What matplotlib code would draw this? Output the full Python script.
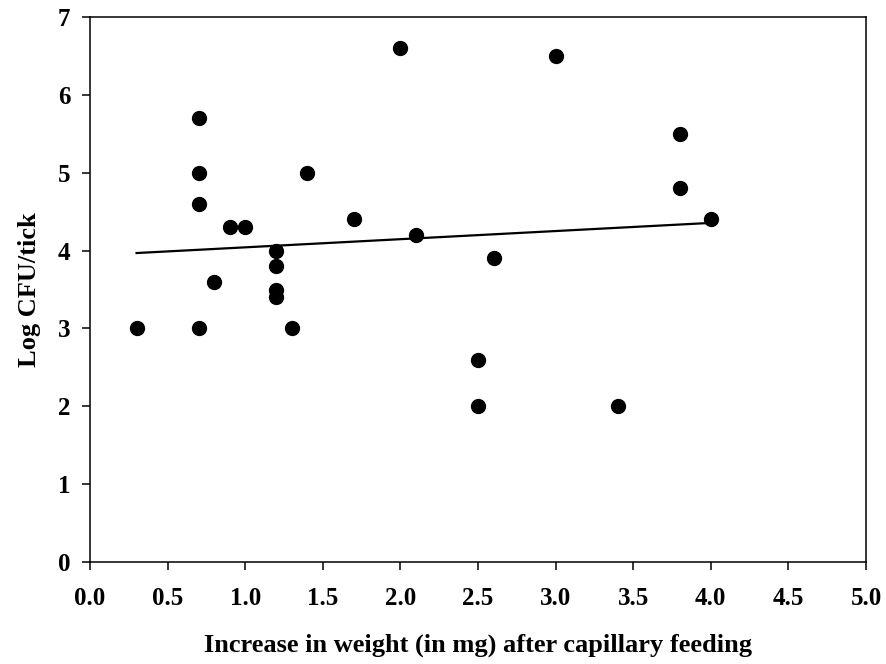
import numpy as np
import matplotlib
matplotlib.use("Agg")
import matplotlib.pyplot as plt

plt.rcParams['font.family'] = ['Liberation Serif', 'DejaVu Serif']
plt.rcParams['font.weight'] = 'bold'

# weight gain (mg) vs log CFU per tick
weight_gain = [0.3, 0.7, 0.7, 0.7, 0.7, 0.8, 0.9, 1.0, 1.2, 1.2, 1.2, 1.2, 1.3,
               1.4, 1.7, 2.0, 2.1, 2.5, 2.5, 2.6, 3.0, 3.4, 3.8, 3.8, 4.0]
log_cfu = [3.0, 5.7, 5.0, 4.6, 3.0, 3.6, 4.3, 4.3, 4.0, 3.8, 3.5, 3.4, 3.0,
           5.0, 4.4, 6.6, 4.2, 2.6, 2.0, 3.9, 6.5, 2.0, 5.5, 4.8, 4.4]

x_ticks = [0.0, 0.5, 1.0, 1.5, 2.0, 2.5, 3.0, 3.5, 4.0, 4.5, 5.0]
y_ticks = [0, 1, 2, 3, 4, 5, 6, 7]

fig = plt.figure(figsize=(8.87, 6.64), dpi=100)
ax = fig.add_axes([90 / 887, 1 - 562 / 664, 776 / 887, 545 / 664])

x = np.array(weight_gain)
y = np.array(log_cfu)
slope, intercept = np.polyfit(x, y, 1)
xl = np.array([x.min(), x.max()])
ax.plot(xl, slope * xl + intercept, color='black', linewidth=1.6, zorder=2)
ax.plot(x, y, 'o', color='black', markersize=10, zorder=3)

ax.set_xlim(0, 5)
ax.set_ylim(0, 7)
ax.set_xticks(x_ticks)
ax.set_xticklabels([f'{v:.1f}' for v in x_ticks])
ax.set_yticks(y_ticks)
ax.tick_params(direction='out', length=6, width=1.1, labelsize=18, colors='black')
ax.tick_params(axis='y', pad=8)
ax.tick_params(axis='x', pad=12)
for s in ax.spines.values():
    s.set_linewidth(1.1)

ax.set_xlabel('Increase in weight (in mg) after capillary feeding',
              fontsize=19, fontweight='bold', labelpad=17)
ax.set_ylabel('Log CFU/tick', fontsize=19, fontweight='bold', labelpad=12)

fig.savefig('out.png', dpi=100)
